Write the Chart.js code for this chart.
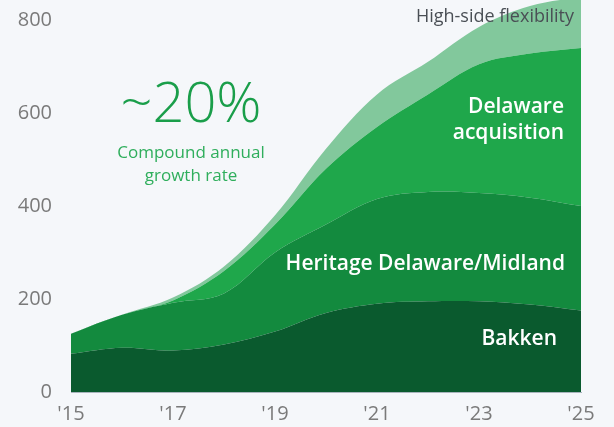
<!DOCTYPE html>
<html>
<head>
<meta charset="utf-8">
<script src="https://cdn.jsdelivr.net/npm/chart.js@4/dist/chart.umd.min.js"></script>
<style>
  html, body { margin: 0; padding: 0; background: #f5f7fa; }
  #wrap { width: 614px; height: 427px; position: relative; }
</style>
</head>
<body>
<div id="wrap"><canvas id="c" width="614" height="427"></canvas></div>
<script>
// ---- data ----
const years = ["'15", "'16", "'17", "'18", "'19", "'20", "'21", "'22", "'23", "'24", "'25"];
const bakken = [82, 95, 89, 102, 130, 170, 190, 195, 195, 188, 175];
const heritageDelawareMidland = [43, 71, 103, 110, 170, 190, 225, 235, 233, 230, 225];
const delawareAcquisition = [0, 0, 5, 48, 60, 120, 155, 210, 277, 310, 340];
const highSideFlexibility = [0, 0, 6, 10, 20, 43, 70, 70, 80, 102, 110];
const yTickValues = [0, 200, 400, 600, 800];
const seriesNames = ["Bakken", "Heritage Delaware/Midland", "Delaware acquisition", "High-side flexibility"];

const FONT = "'Open Sans', 'Noto Sans', sans-serif";

const labelsPlugin = {
  id: 'labels',
  afterDatasetsDraw(chart) {
    const ctx = chart.ctx;
    const xs = chart.scales.x;
    const right = xs.getPixelForValue(10);
    ctx.save();
    ctx.textBaseline = 'middle';
    ctx.textAlign = 'center';
    ctx.fillStyle = '#1a9e4a';
    ctx.font = `300 56px ${FONT}`;
    ctx.fillText('~20%', 191, 106);
    ctx.fillStyle = '#2fae5c';
    ctx.font = `400 17px ${FONT}`;
    ctx.fillText('Compound annual', 191, 153);
    ctx.fillText('growth rate', 191, 176);
    ctx.textAlign = 'right';
    ctx.fillStyle = '#4a4f55';
    ctx.font = `400 18px ${FONT}`;
    ctx.fillText(seriesNames[3], right - 7, 17);
    ctx.fillStyle = '#ffffff';
    ctx.font = `600 21px ${FONT}`;
    ctx.fillText('Delaware', right - 17, 107);
    ctx.fillText('acquisition', right - 17, 133);
    ctx.fillText(seriesNames[1], right - 16, 264);
    ctx.fillText(seriesNames[0], right - 24, 339);
    ctx.restore();
  }
};

const colors = ['#0a5a2e', '#138a3e', '#1fa74b', '#82c89c'];
const seriesData = [bakken, heritageDelawareMidland, delawareAcquisition, highSideFlexibility];

new Chart(document.getElementById('c'), {
  type: 'line',
  data: {
    labels: years,
    datasets: seriesData.map((d, i) => ({
      label: seriesNames[i],
      data: d,
      backgroundColor: colors[i],
      borderWidth: 0,
      pointRadius: 0,
      fill: i === 0 ? 'origin' : '-1',
      tension: 0.35,
      clip: false
    }))
  },
  plugins: [labelsPlugin],
  options: {
    responsive: false,
    animation: false,
    layout: { padding: { left: 0, right: 33, top: 0, bottom: 0 } },
    plugins: { legend: { display: false }, tooltip: { enabled: false } },
    scales: {
      x: {
        offset: false,
        grid: { display: false, drawTicks: false },
        border: { display: true, color: '#a9b4bd', width: 1 },
        ticks: {
          autoSkip: false, maxRotation: 0, padding: 10,
          color: '#7a7a7a', font: { family: FONT, size: 20 },
          callback: (v, i) => (i % 2 === 0 ? years[i] : '')
        },
        afterFit: s => { s.height = 35; s.paddingLeft = 0; s.paddingRight = 0; }
      },
      y: {
        stacked: true,
        min: 0, max: 843,
        grid: { display: false, drawTicks: false },
        border: { display: false },
        afterBuildTicks: s => { s.ticks = yTickValues.map(v => ({ value: v })); },
        ticks: { padding: 19, color: '#7a7a7a', font: { family: FONT, size: 20 } },
        afterFit: s => { s.width = 71; s.paddingTop = 0; s.paddingBottom = 0; }
      }
    }
  }
});
</script>
</body>
</html>
